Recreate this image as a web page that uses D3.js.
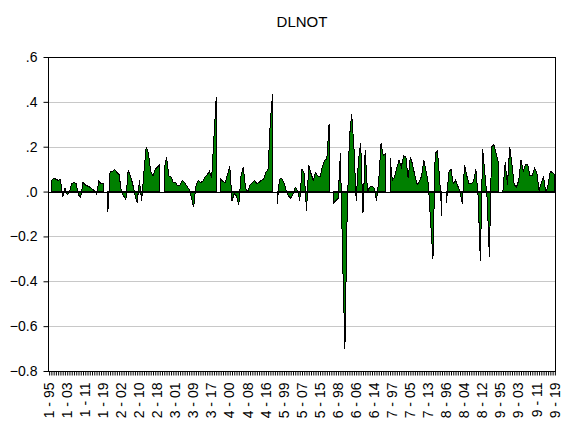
<!DOCTYPE html>
<html>
<head>
<meta charset="utf-8">
<script src="https://cdn.jsdelivr.net/npm/d3@7"></script>
<style>
  body { margin: 0; background: #fff; }
  svg { display: block; }
  text { font-family: "Liberation Sans", Arial, sans-serif; fill: #000; }
</style>
</head>
<body>
<svg width="581" height="436"></svg>
<script>

// panel: 9 cross sections x 25 years (95..19), first year of each section is NA
var sections = ["1", "2", "3", "4", "5", "6", "7", "8", "9"];
var years = ["95", "96", "97", "98", "99", "00", "01", "02", "03", "04", "05", "06", "07",
             "08", "09", "10", "11", "12", "13", "14", "15", "16", "17", "18", "19"];

var s1 = [null, 0.05, 0.06, 0.055, 0.05, 0.055, -0.024, 0.015, -0.015, 0.0, 0.035, 0.04, 0.035,
          -0.015, -0.025, 0.04, 0.03, 0.025, 0.02, 0.012, 0.005, -0.012, 0.045, 0.035, 0.035];
var s2 = [null, -0.09, 0.088, 0.09, 0.1, 0.085, 0.075, 0.0, -0.02, -0.035, 0.095, 0.07, 0.035,
          -0.015, -0.05, 0.05, -0.04, 0.09, 0.2, 0.17, 0.09, 0.07, 0.1, 0.11, 0.12];
var s3 = [null, 0.10, 0.155, 0.07, 0.065, 0.04, 0.04, 0.025, 0.03, 0.05, 0.04, 0.025, 0.01,
          -0.027, -0.07, 0.025, 0.05, 0.04, 0.045, 0.065, 0.075, 0.09, 0.06, 0.24, 0.42];
var s4 = [null, 0.055, 0.045, 0.04, 0.075, 0.115, -0.04, -0.01, -0.02, -0.06, 0.07, 0.11, 0.015,
          0.0, 0.03, 0.04, 0.05, 0.035, 0.04, 0.05, 0.055, 0.085, 0.1, 0.32, 0.435];
var s5 = [null, -0.057, 0.054, 0.06, 0.04, 0.005, -0.02, -0.03, -0.01, 0.02, 0.005, -0.04, 0.1,
          0.08, -0.086, 0.12, 0.08, 0.05, 0.085, 0.07, 0.065, 0.11, 0.14, 0.145, 0.30];
var s6 = [null, -0.05, -0.04, -0.03, 0.17, -0.3, -0.70, -0.1, 0.24, 0.345, 0.2, -0.04, 0.14,
          0.215, -0.095, 0.185, 0.0, 0.02, 0.025, 0.015, -0.04, 0.05, 0.215, 0.16, 0.17];
var s7 = [null, 0.15, 0.05, 0.065, 0.105, 0.14, 0.11, 0.16, 0.155, 0.06, 0.155, 0.12, 0.07,
          0.03, 0.045, 0.07, 0.14, 0.09, 0.03, -0.14, -0.30, 0.17, 0.18, 0.05, -0.11];
var s8 = [null, -0.05, 0.085, 0.1, 0.035, 0.05, 0.025, 0.0, -0.055, 0.12, 0.07, 0.035, 0.035,
          0.045, 0.1, -0.02, -0.31, 0.19, 0.08, -0.03, -0.29, 0.2, 0.21, 0.17, 0.13];
var s9 = [null, 0.005, 0.13, 0.03, 0.2, 0.12, 0.03, 0.02, 0.05, 0.14, 0.09, 0.12, 0.12,
          0.07, 0.07, 0.105, 0.085, 0.005, 0.04, 0.065, -0.005, 0.03, 0.09, 0.085, 0.075];

var yTicks = [-0.8, -0.6, -0.4, -0.2, 0.0, 0.2, 0.4, 0.6];

var svg = d3.select("svg"),
    width = +svg.attr("width"),
    height = +svg.attr("height");

var pLeft = 48, pRight = 556, pTop = 57, pBottom = 371;

var values = [].concat(s1, s2, s3, s4, s5, s6, s7, s8, s9);
var labels = [];
sections.forEach(function(s) {
    years.forEach(function(yr) { labels.push(s + " - " + yr); });
});
var data = values.map(function(v, i) { return { i: i, label: labels[i], v: v }; });

var x = d3.scalePoint()
    .domain(d3.range(data.length))
    .range([pLeft, pRight])
    .padding(0.5);

var y = d3.scaleLinear()
    .domain([-0.8, 0.6])
    .range([pBottom, pTop]);

// grid
svg.append("g")
    .selectAll("line")
    .data(yTicks.slice(1, -1))
    .enter()
    .append("line")
    .attr("x1", pLeft)
    .attr("x2", pRight)
    .attr("y1", function(d) { return Math.round(y(d)) + 0.5; })
    .attr("y2", function(d) { return Math.round(y(d)) + 0.5; })
    .style("stroke", "#c8c8c8");

var area = d3.area()
    .defined(function(d) { return d.v != null; })
    .x(function(d) { return x(d.i); })
    .y0(y(0))
    .y1(function(d) { return y(d.v); });

svg.append("path")
    .datum(data)
    .attr("d", area)
    .style("fill", "#008000")
    .style("stroke", "#000")
    .style("stroke-width", 1)
    .style("shape-rendering", "crispEdges");

svg.append("line")
    .attr("x1", pLeft)
    .attr("x2", pRight)
    .attr("y1", Math.round(y(0)) + 0.5)
    .attr("y2", Math.round(y(0)) + 0.5)
    .style("stroke", "#000");

// frame
svg.append("rect")
    .attr("x", pLeft + 0.5)
    .attr("y", pTop + 0.5)
    .attr("width", pRight - pLeft - 1)
    .attr("height", pBottom - pTop)
    .style("fill", "none")
    .style("stroke", "#000");

var fmt = function(d) {
    return d3.format(".1f")(d).replace(/^(-?)0\./, "$1.");
};

var yAxis = svg.append("g")
    .attr("transform", "translate(" + (pLeft + 0.5) + ",0)")
    .call(d3.axisLeft(y).tickValues(yTicks).tickSize(5).tickPadding(6).tickFormat(fmt));
yAxis.select(".domain").remove();
yAxis.selectAll("text").style("font-size", "14px").style("font-family", "Liberation Sans, Arial, sans-serif");

var xAxis = svg.append("g")
    .attr("transform", "translate(0," + (pBottom + 0.5) + ")")
    .call(d3.axisBottom(x)
        .tickValues(d3.range(data.length))
        .tickSize(4)
        .tickFormat(function(i) { return i % 8 === 0 ? labels[i] : ""; }));
xAxis.select(".domain").remove();
xAxis.selectAll("text")
    .attr("transform", "rotate(-90)")
    .attr("text-anchor", "end")
    .attr("x", -11)
    .attr("y", 0)
    .attr("dy", "0.3em")
    .style("font-size", "14px")
    .style("font-family", "Liberation Sans, Arial, sans-serif");

svg.append("text")
    .attr("x", (pLeft + pRight) / 2)
    .attr("y", 27)
    .attr("text-anchor", "middle")
    .style("font-size", "15px")
    .text("DLNOT");

</script>
</body>
</html>
